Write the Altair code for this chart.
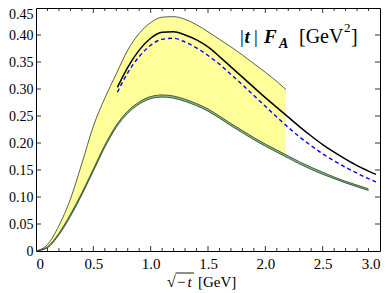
import altair as alt
import pandas as pd

# ---- data ----
xs_y = [0, 0.1, 0.2, 0.3, 0.4, 0.5, 0.6, 0.7, 0.8, 0.9, 1.0, 1.1, 1.2, 1.3,
        1.4, 1.5, 1.6, 1.7, 1.8, 1.9, 2.0, 2.1, 2.18]
band_upper = [0, 0.012, 0.047, 0.096, 0.162, 0.231, 0.283, 0.328, 0.372, 0.403,
              0.423, 0.433, 0.434, 0.429, 0.419, 0.406, 0.392, 0.378, 0.363,
              0.347, 0.331, 0.314, 0.299]
band_lower = [0, 0.008, 0.033, 0.068, 0.108, 0.152, 0.196, 0.233, 0.259, 0.276,
              0.286, 0.289, 0.287, 0.281, 0.273, 0.263, 0.250, 0.236, 0.223,
              0.210, 0.198, 0.187, 0.178]

xs_g = [0, 0.1, 0.2, 0.3, 0.4, 0.5, 0.6, 0.7, 0.8, 0.9, 1.0, 1.1, 1.2, 1.3, 1.4,
        1.5, 1.6, 1.7, 1.8, 1.9, 2.0, 2.1, 2.2, 2.3, 2.4, 2.5, 2.6, 2.7, 2.8, 2.9]
green_upper = [0, 0.008, 0.033, 0.068, 0.108, 0.152, 0.196, 0.233, 0.259, 0.276,
               0.286, 0.289, 0.287, 0.281, 0.273, 0.263, 0.250, 0.236, 0.223,
               0.210, 0.198, 0.187, 0.176, 0.165, 0.155, 0.146, 0.137, 0.129,
               0.122, 0.115]
green_lower = [0, 0.006, 0.030, 0.064, 0.104, 0.148, 0.192, 0.229, 0.255, 0.272,
               0.282, 0.285, 0.283, 0.277, 0.269, 0.259, 0.246, 0.232, 0.219,
               0.206, 0.194, 0.183, 0.172, 0.161, 0.151, 0.142, 0.134, 0.126,
               0.119, 0.112]

xs_c = [0.71, 0.8, 0.9, 1.0, 1.1, 1.2, 1.3, 1.4, 1.5, 1.6, 1.7, 1.8, 1.9, 2.0,
        2.1, 2.2, 2.3, 2.4, 2.5, 2.6, 2.7, 2.8, 2.9, 2.965]
black_line = [0.303, 0.340, 0.372, 0.394, 0.405, 0.406, 0.400, 0.391, 0.378,
              0.360, 0.341, 0.322, 0.303, 0.284, 0.266, 0.248, 0.230, 0.213,
              0.197, 0.183, 0.170, 0.158, 0.148, 0.142]
blue_dashed = [0.294, 0.330, 0.360, 0.381, 0.392, 0.394, 0.387, 0.376, 0.362,
               0.346, 0.327, 0.308, 0.288, 0.268, 0.248, 0.229, 0.211, 0.195,
               0.180, 0.167, 0.155, 0.144, 0.134, 0.128]

x_labels = [0, 0.5, 1.0, 1.5, 2.0, 2.5, 3.0]
y_labels = [0, 0.05, 0.1, 0.15, 0.2, 0.25, 0.3, 0.35, 0.4, 0.45]
x_minor = [0.1, 0.2, 0.3, 0.4, 0.6, 0.7, 0.8, 0.9, 1.1, 1.2, 1.3, 1.4, 1.6, 1.7,
           1.8, 1.9, 2.1, 2.2, 2.3, 2.4, 2.6, 2.7, 2.8, 2.9]
x_major = [0.5, 1.0, 1.5, 2.0, 2.5]
y_ticks = [0.05, 0.1, 0.15, 0.2, 0.25, 0.3, 0.35, 0.4]

W, H = 344, 243
FONT = "Liberation Serif"

band = pd.DataFrame({"x": xs_y, "u": band_upper, "l": band_lower})
green = pd.DataFrame({"x": xs_g, "u": green_upper, "l": green_lower})
curves = pd.DataFrame({"x": xs_c, "b": black_line, "d": blue_dashed})

xs = alt.Scale(domain=[0, 3], nice=False, zero=False)
ys = alt.Scale(domain=[0, 0.45], nice=False, zero=False)

xaxis = alt.Axis(values=x_labels, labelExpr="datum.value == 0 ? '0' : format(datum.value, '.1f')",
                 title=None, labelFontSize=15, labelPadding=5)
yaxis = alt.Axis(values=y_labels, labelExpr="datum.value == 0 ? '0' : format(datum.value, '.2f')",
                 title=None, labelFontSize=14, labelPadding=3,
                 labelOffset={"condition": {"test": "datum.value > 0.44", "value": 6}, "value": 0})

X = lambda f: alt.X(f, scale=xs, axis=xaxis)
Y = lambda f: alt.Y(f, scale=ys, axis=yaxis)

yellow = alt.Chart(band).mark_area(color="#ffff99", interpolate="monotone").encode(
    x=X("x:Q"), y=Y("u:Q"), y2="l:Q")
yellow_edge = alt.Chart(band).mark_line(color="#333333", strokeWidth=0.8, interpolate="monotone").encode(
    x=X("x:Q"), y=Y("u:Q"))

green_area = alt.Chart(green).mark_area(color="#8fbc8f", interpolate="monotone").encode(
    x=X("x:Q"), y=Y("u:Q"), y2="l:Q")
green_up = alt.Chart(green).mark_line(color="#1e3a1e", strokeWidth=0.8, interpolate="monotone").encode(
    x=X("x:Q"), y=Y("u:Q"))
green_lo = alt.Chart(green).mark_line(color="#1e3a1e", strokeWidth=0.8, interpolate="monotone").encode(
    x=X("x:Q"), y=Y("l:Q"))

black = alt.Chart(curves).mark_line(color="black", strokeWidth=1.5, interpolate="monotone").encode(
    x=X("x:Q"), y=Y("b:Q"))
blue = alt.Chart(curves).mark_line(color="#0000ff", strokeWidth=1.4, strokeDash=[4, 3],
                                   interpolate="monotone").encode(x=X("x:Q"), y=Y("d:Q"))

# inward ticks
xmin_df = pd.DataFrame({"x": x_minor})
xmaj_df = pd.DataFrame({"x": x_major})
yt_df = pd.DataFrame({"u": y_ticks})

def xt(df, y0, y1):
    return alt.Chart(df).mark_rule(color="black", strokeWidth=0.8).encode(
        x=X("x:Q"), y=alt.value(y0), y2=alt.value(y1))

def yt(df, x0, x1):
    return alt.Chart(df).mark_rule(color="black", strokeWidth=0.8).encode(
        y=Y("u:Q"), x=alt.value(x0), x2=alt.value(x1))

ticks = [xt(xmin_df, H, H - 3), xt(xmaj_df, H, H - 5), xt(xmin_df, 0, 3), xt(xmaj_df, 0, 5),
         yt(yt_df, 0, 5), yt(yt_df, W, W - 5)]

# text pieces: annotation |t| F_A [GeV^2] and the x-axis title sqrt(-t) [GeV]
txt = ["|", "t", "|", "F", "A", "[GeV", "2", "]",
       "√", "−", "t", "[GeV]"]
txt_x = [204, 208.5, 218, 228, 243, 263, 308, 315,
         131, 141, 151.5, 162]
txt_y = [35, 35, 35, 35, 40, 35, 24, 35,
         279, 279, 279, 279]
txt_size = [19, 19, 19, 19, 14, 20, 13, 20,
            16, 15, 15, 15]
txt_style = ["normal", "italic", "normal", "italic", "italic", "normal", "normal", "normal",
             "normal", "normal", "italic", "normal"]
txt_weight = ["normal", "bold", "normal", "bold", "bold", "normal", "normal", "normal",
              "normal", "normal", "normal", "normal"]

texts = []
for t, ax, ay, s, st, w in zip(txt, txt_x, txt_y, txt_size, txt_style, txt_weight):
    texts.append(alt.Chart(pd.DataFrame({"t": [t]})).mark_text(
        align="left", baseline="alphabetic", font=FONT, fontSize=s, fontStyle=st,
        fontWeight=w, color="black").encode(text="t:N", x=alt.value(ax), y=alt.value(ay)))

# overline of the square root
overline = alt.Chart(pd.DataFrame({"t": [0]})).mark_rule(color="black", strokeWidth=0.9).encode(
    x=alt.value(139.5), x2=alt.value(158), y=alt.value(265))

chart = alt.layer(
    yellow, yellow_edge, green_area, green_up, green_lo, black, blue, *ticks, *texts, overline
).properties(
    width=W, height=H,
    autosize=alt.AutoSizeParams(type="none"),
    padding={"left": 28, "top": 0, "right": 2, "bottom": 42},
).configure_view(
    stroke="black", strokeWidth=1
).configure_axis(
    domain=False, ticks=False, tickSize=0, grid=False,
    labelFont=FONT, labelColor="black",
)

chart.save("out.html", embed_options={"renderer": "svg", "actions": False})
